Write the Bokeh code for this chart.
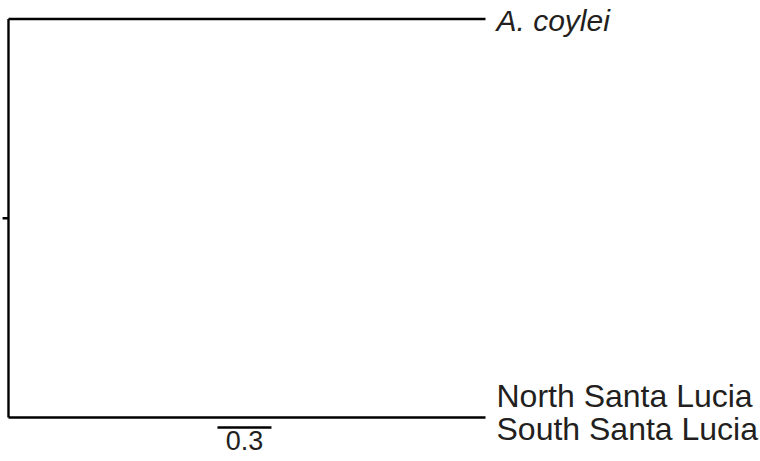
from bokeh.plotting import figure
from bokeh.models import Range1d
from bokeh.core.properties import value
from bokeh.embed import file_html
from bokeh.resources import INLINE

# --- data -------------------------------------------------------------
taxa = ["A. coylei", "North Santa Lucia", "South Santa Lucia"]
tip_y = [1.0, 0.0]                  # node rows: A. coylei, (North, South) clade
branch_lengths = [2.65, 2.65]       # root -> A. coylei, root -> Santa Lucia clade
root_stub = 0.033
scale_value = 0.3
scale_label = "0.3"
scale_start = 1.161
scale_y = -0.025

FONT = "Liberation Sans"
INK = "#231F20"
LW = 2.4

p = figure(width=760, height=461, output_backend="svg", toolbar_location=None,
           x_range=Range1d(-0.0444, 4.1778), y_range=Range1d(-0.1104, 1.0464),
           min_border=0, min_border_left=0, min_border_right=0,
           min_border_top=0, min_border_bottom=0)
p.axis.visible = False
p.grid.visible = False
p.outline_line_color = None
p.background_fill_color = "white"

# horizontal branches
p.segment(x0=[0, 0], y0=tip_y, x1=branch_lengths, y1=tip_y,
          line_color="black", line_width=LW)
# vertical connector at root
p.segment(x0=[0], y0=[min(tip_y)], x1=[0], y1=[max(tip_y)],
          line_color="black", line_width=LW)
# root stub
mid = (tip_y[0] + tip_y[1]) / 2
p.segment(x0=[-root_stub], y0=[mid], x1=[0], y1=[mid],
          line_color="black", line_width=LW)

# tip labels
p.text(x=[branch_lengths[0]], y=[tip_y[0]], text=[taxa[0]],
       text_font=value(FONT), text_font_size="30px", text_font_style="italic",
       text_color=INK, text_baseline="middle", text_align="left",
       x_offset=11, y_offset=2)
p.text(x=[branch_lengths[1], branch_lengths[1]], y=[tip_y[1], tip_y[1]],
       text=taxa[1:], text_font=value(FONT), text_font_size="32px",
       text_color=INK, text_baseline="alphabetic", text_align="left",
       x_offset=11, y_offset=[-22, 11])

# scale bar
p.segment(x0=[scale_start], y0=[scale_y], x1=[scale_start + scale_value], y1=[scale_y],
          line_color="black", line_width=LW)
p.text(x=[scale_start + scale_value / 2], y=[scale_y], text=[scale_label],
       text_font=value(FONT), text_font_size="27px", text_color=INK,
       text_baseline="alphabetic", text_align="center", y_offset=13)

open("out.html", "w").write(file_html(p, INLINE))
